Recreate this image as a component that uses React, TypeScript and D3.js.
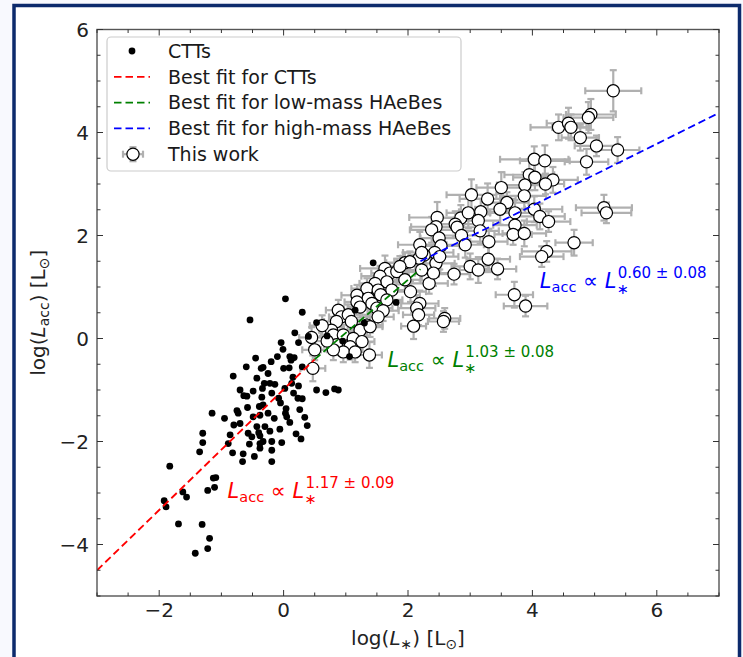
import React from 'react';
import * as d3 from 'd3';

// ---------- data ----------
const xDomain: [number, number] = [-3, 7];
const yDomain: [number, number] = [-5, 6];
const xMajorTicks = [-2, 0, 2, 4, 6];
const yMajorTicks = [-4, -2, 0, 2, 4, 6];
const tickLabel = (v: number) => (v < 0 ? '\u2212' + Math.abs(v) : String(v));

// CTTs: [log L*, log Lacc]
const cttPoints: [number, number][] = [
  [0.03, 0.77], [-0.54, 0.36], [0.53, 0.31], [0.18, 0.11], [0.40, 0.04], [-0.04, -0.08], [0.24, -0.08],
  [-0.01, -0.21], [-0.10, -0.35], [0.10, -0.35], [0.17, -0.37], [0.12, -0.42], [-0.33, -0.56], [-0.36, -0.58],
  [-0.81, -0.73], [-0.43, -0.77], [-0.25, -0.68], [0.00, -0.58], [0.09, -0.57], [-0.31, -0.87], [-0.22, -0.87],
  [-0.14, -0.89], [0.13, -0.87], [0.53, -1.00], [0.68, -1.05], [0.82, -0.98], [0.88, -1.00], [-0.49, -1.02],
  [-0.34, -0.97], [-0.19, -1.06], [0.02, -0.97], [0.24, -0.92], [-0.64, -1.11], [-0.59, -1.12], [-0.35, -1.14],
  [-0.08, -1.16], [0.16, -1.06], [0.23, -1.16], [0.30, -1.17], [-0.75, -1.40], [-0.73, -1.45], [-0.58, -1.34],
  [-0.39, -1.32], [-0.33, -1.29], [0.04, -1.36], [0.26, -1.38], [-1.15, -1.45], [-0.80, -1.68], [-0.49, -1.52],
  [-0.38, -1.49], [0.03, -1.45], [0.05, -1.52], [0.34, -1.53], [0.38, -1.69], [-0.43, -1.71], [-0.30, -1.71],
  [-0.22, -1.80], [-0.06, -1.76], [0.10, -1.63], [-0.57, -1.84], [-0.51, -1.91], [-0.38, -1.89], [-0.40, -1.83],
  [-1.30, -1.84], [-1.30, -2.02], [-0.86, -1.87], [-0.19, -2.00], [-0.03, -2.02], [-0.38, -2.04], [-0.33, -2.00],
  [-0.89, -2.04], [-0.82, -2.22], [-0.65, -2.24], [-0.38, -2.13], [-0.47, -2.29], [-0.19, -2.17], [-0.19, -2.39],
  [-0.66, -2.39], [-1.35, -2.20], [-1.83, -2.48], [-1.09, -2.70], [-1.13, -2.71], [-1.11, -2.89], [-1.22, -2.95],
  [-1.62, -2.98], [-1.56, -3.08], [-1.92, -3.15], [-1.89, -3.27], [-1.69, -3.60], [-1.31, -3.61], [-1.19, -3.88],
  [-1.22, -4.08], [-1.42, -4.17],
  [1.44, 1.47], [1.81, 0.70], [1.30, 0.30], [1.06, -0.35], [0.95, -0.05], [1.15, 0.55], [0.70, 0.05], [0.30, 0.51],
  [-0.70, -1.00], [-0.60, -0.55], [-0.20, -0.45], [0.30, -0.55], [-0.05, -1.25], [0.20, -1.85], [-0.70, -1.65],
  [-0.95, -1.55], [-0.25, -1.45], [0.15, -0.75], [-0.45, -0.38], [-0.15, -1.55], [0.28, -1.95], [-0.55, -2.05],
];

// This work (HAeBes): [log L*, log Lacc, xerr, yerr]
const haebePoints: [number, number, number, number][] = [
  [5.30, 4.81, 0.45, 0.40], [4.94, 4.35, 0.40, 0.30], [4.90, 4.29, 0.40, 0.30], [4.42, 4.10, 0.45, 0.25],
  [4.58, 4.18, 0.35, 0.30], [4.62, 4.10, 0.30, 0.25], [4.77, 3.90, 0.30, 0.25], [5.03, 3.74, 0.35, 0.20],
  [5.37, 3.66, 0.35, 0.25], [4.87, 3.43, 0.35, 0.25], [4.03, 3.48, 0.55, 0.25], [4.20, 3.45, 0.40, 0.30],
  [3.95, 3.18, 0.40, 0.30], [4.04, 3.13, 0.35, 0.25], [4.33, 3.08, 0.40, 0.25], [4.21, 3.00, 0.30, 0.20],
  [3.88, 2.98, 0.45, 0.25], [3.50, 2.93, 0.40, 0.30], [3.02, 2.79, 0.40, 0.30], [3.87, 2.77, 0.35, 0.25],
  [3.28, 2.71, 0.45, 0.30], [3.59, 2.64, 0.35, 0.20], [3.17, 2.46, 0.35, 0.25], [3.48, 2.51, 0.40, 0.30],
  [3.72, 2.44, 0.40, 0.25], [4.03, 2.51, 0.45, 0.25], [4.12, 2.37, 0.40, 0.25], [4.26, 2.27, 0.35, 0.20],
  [2.47, 2.35, 0.45, 0.30], [2.45, 2.17, 0.40, 0.25], [2.85, 2.34, 0.30, 0.25], [2.97, 2.44, 0.35, 0.30],
  [2.76, 2.22, 0.35, 0.25], [2.79, 2.16, 0.30, 0.20], [3.13, 2.29, 0.35, 0.25], [3.16, 2.09, 0.30, 0.25],
  [2.38, 2.11, 0.35, 0.25], [2.50, 1.95, 0.30, 0.25], [2.86, 2.00, 0.35, 0.20], [2.92, 1.82, 0.30, 0.25],
  [2.53, 1.80, 0.30, 0.20], [3.72, 2.20, 0.35, 0.25], [3.69, 2.02, 0.30, 0.20], [3.87, 2.04, 0.35, 0.25],
  [3.30, 1.88, 0.30, 0.25], [2.19, 1.82, 0.35, 0.25], [2.43, 1.67, 0.30, 0.25], [2.26, 1.62, 0.25, 0.20],
  [2.18, 1.56, 0.30, 0.20], [2.45, 1.46, 0.30, 0.25], [2.34, 1.07, 0.30, 0.20], [2.74, 1.25, 0.25, 0.20],
  [3.00, 1.40, 0.30, 0.25], [3.13, 1.33, 0.30, 0.25], [3.29, 1.54, 0.35, 0.25], [3.44, 1.35, 0.30, 0.20],
  [4.67, 1.86, 0.30, 0.25], [4.23, 1.69, 0.40, 0.20], [4.15, 1.59, 0.35, 0.20], [5.15, 2.54, 0.45, 0.25],
  [5.19, 2.44, 0.40, 0.20], [3.71, 0.85, 0.30, 0.25], [3.89, 0.63, 0.35, 0.20], [2.19, 0.68, 0.30, 0.25],
  [2.59, 0.39, 0.25, 0.20],
  [2.22, 1.67, 0.30, 0.20], [2.51, 1.59, 0.30, 0.25], [1.63, 1.36, 0.40, 0.25], [1.71, 1.27, 0.30, 0.20],
  [1.82, 1.30, 0.30, 0.25], [1.95, 1.47, 0.30, 0.20], [2.03, 1.49, 0.25, 0.20], [1.87, 1.40, 0.25, 0.20],
  [2.22, 1.33, 0.30, 0.20], [2.41, 1.27, 0.30, 0.25], [1.95, 1.14, 0.25, 0.20], [1.55, 1.21, 0.30, 0.20],
  [1.66, 1.10, 0.25, 0.20], [1.47, 1.07, 0.25, 0.20], [1.34, 0.97, 0.25, 0.20], [1.52, 0.94, 0.25, 0.20],
  [1.74, 0.94, 0.30, 0.20], [2.04, 0.91, 0.25, 0.20], [1.18, 0.84, 0.25, 0.20], [1.36, 0.78, 0.25, 0.20],
  [1.56, 0.85, 0.20, 0.20], [1.66, 0.75, 0.25, 0.20], [1.18, 0.71, 0.20, 0.20], [1.42, 0.68, 0.25, 0.20],
  [1.23, 0.61, 0.20, 0.20], [1.50, 0.59, 0.25, 0.20], [1.60, 0.54, 0.25, 0.20], [2.14, 0.59, 0.30, 0.25],
  [2.17, 0.46, 0.25, 0.20], [2.57, 0.33, 0.25, 0.20], [2.09, 0.24, 0.20, 0.25], [0.88, 0.55, 0.20, 0.20],
  [0.93, 0.42, 0.20, 0.20], [1.04, 0.46, 0.20, 0.20], [1.09, 0.33, 0.25, 0.20], [0.85, 0.33, 0.20, 0.20],
  [1.34, 0.26, 0.25, 0.20], [1.52, 0.42, 0.25, 0.20], [1.23, 0.16, 0.20, 0.20], [0.77, 0.16, 0.20, 0.20],
  [0.80, 0.07, 0.20, 0.20], [0.96, 0.07, 0.20, 0.20], [1.12, 0.00, 0.20, 0.20], [1.39, 0.23, 0.20, 0.20],
  [1.26, -0.06, 0.20, 0.20], [0.85, -0.12, 0.20, 0.20], [1.07, -0.16, 0.20, 0.25], [0.96, -0.26, 0.20, 0.20],
  [0.80, -0.22, 0.20, 0.20], [1.15, -0.26, 0.20, 0.20], [1.38, -0.32, 0.20, 0.25], [0.50, -0.22, 0.20, 0.20],
  [0.47, -0.58, 0.20, 0.25], [0.45, 0.02, 0.20, 0.20], [0.62, 0.25, 0.20, 0.20], [0.70, -0.05, 0.20, 0.20],
];

// Best-fit lines: [slope, intercept, xStart, xEnd]
const fitCTT: [number, number, number, number] = [1.17, -0.99, -3, 0.5];
const fitLowMass: [number, number, number, number] = [1.03, -0.92, 0.5, 2.2];
const fitHighMass: [number, number, number, number] = [0.60, 0.18, 2.2, 7];

const legendLabels = ['CTTs', 'Best fit for CTTs', 'Best fit for low-mass HAeBes', 'Best fit for high-mass HAeBes', 'This work'];

// annotations: [x, y, exponent text]
const annCTT: [number, number, string] = [-0.9, -3.1, '1.17 \u00b1 0.09'];
const annLow: [number, number, string] = [1.67, -0.56, '1.03 \u00b1 0.08'];
const annHigh: [number, number, string] = [4.12, 0.98, '0.60 \u00b1 0.08'];

// ---------- drawing ----------
const W = 743;
const H = 657;
const FONT = 'DejaVu Sans';

const x = d3.scaleLinear().domain(xDomain).range([97, 719]);
const y = d3.scaleLinear().domain(yDomain).range([596, 29.5]);

function fitPath(f: [number, number, number, number]) {
  const [m, b, x0, x1] = f;
  const line = d3.line<number>().x((v) => x(v)).y((v) => y(m * v + b));
  return line([x0, x1]) || '';
}

function PowerLaw({ a, color }: { a: [number, number, string]; color: string }) {
  return (
    <text x={x(a[0])} y={y(a[1])} fill={color} fontSize={21} fontFamily={FONT} style={{ whiteSpace: 'pre' }}>
      <tspan fontStyle="italic">L</tspan>
      <tspan fontSize={14.5} dy={4}>acc</tspan>
      <tspan dy={-4}>{' \u221d '}</tspan>
      <tspan fontStyle="italic">L</tspan>
      <tspan fontSize={14.5} dy={6}>{'\u2217'}</tspan>
      <tspan fontSize={15} dx={-11} dy={-16}>{a[2]}</tspan>
    </text>
  );
}

export default function App() {
  const minorX = d3.range(-3, 7.001, 0.5).filter((v) => !xMajorTicks.includes(v));
  const minorY = d3.range(-5, 6.001, 0.5).filter((v) => !yMajorTicks.includes(v));
  const L = x.range()[0], R = x.range()[1], T = y.range()[1], B = y.range()[0];
  const tickColor = '#333';
  const cap = 3.5;
  const ebColor = '#b0b0b0';

  return (
    <svg width={W} height={H} style={{ position: 'absolute', left: 0, top: 0, display: 'block' }}>
      <rect x={0} y={0} width={W} height={H} fill="#f8f9fe" />
      <rect x={14} y={5.5} width={725.5} height={700} fill="#ffffff" stroke="#0c2a6c" strokeWidth={3.5} />

      <defs>
        <clipPath id="plotclip">
          <rect x={L} y={T} width={R - L} height={B - T} />
        </clipPath>
      </defs>

      {/* HAeBe error bars */}
      <g stroke={ebColor} strokeWidth={2.2} fill="none">
        {haebePoints.map((p, i) => {
          const cx = x(p[0]), cy = y(p[1]);
          const xl = x(p[0] - p[2]), xr = x(p[0] + p[2]);
          const yt = y(p[1] + p[3]), yb = y(p[1] - p[3]);
          return (
            <g key={i}>
              <line x1={xl} x2={xr} y1={cy} y2={cy} />
              <line x1={cx} x2={cx} y1={yt} y2={yb} />
              <line x1={xl} x2={xl} y1={cy - cap} y2={cy + cap} />
              <line x1={xr} x2={xr} y1={cy - cap} y2={cy + cap} />
              <line x1={cx - cap} x2={cx + cap} y1={yt} y2={yt} />
              <line x1={cx - cap} x2={cx + cap} y1={yb} y2={yb} />
            </g>
          );
        })}
      </g>
      {/* HAeBe markers */}
      <g fill="#ffffff" stroke="#000" strokeWidth={1.2}>
        {haebePoints.map((p, i) => (
          <circle key={i} cx={x(p[0])} cy={y(p[1])} r={6.1} />
        ))}
      </g>

      {/* CTTs */}
      <g fill="#000">
        {cttPoints.map((p, i) => (
          <circle key={i} cx={x(p[0])} cy={y(p[1])} r={3.4} />
        ))}
      </g>

      {/* fits */}
      <g clipPath="url(#plotclip)" fill="none" strokeWidth={1.8} strokeDasharray="7.5,4">
        <path d={fitPath(fitCTT)} stroke="#ff0000" />
        <path d={fitPath(fitLowMass)} stroke="#008000" />
        <path d={fitPath(fitHighMass)} stroke="#0000ff" />
      </g>

      <PowerLaw a={annCTT} color="#ff0000" />
      <PowerLaw a={annLow} color="#008000" />
      <PowerLaw a={annHigh} color="#0000ff" />

      {/* legend */}
      <g>
        <rect x={107} y={37} width={354} height={134} rx={4} fill="#ffffff" fillOpacity={0.8} stroke="#cccccc" strokeWidth={1.2} />
        {legendLabels.map((lab, i) => {
          const ly = 51 + i * 25.8;
          let handle: React.ReactNode = null;
          if (i === 0) handle = <circle cx={132} cy={ly} r={3.4} fill="#000" />;
          else if (i < 4) {
            const c = ['#ff0000', '#008000', '#0000ff'][i - 1];
            handle = <line x1={114} x2={150} y1={ly} y2={ly} stroke={c} strokeWidth={1.8} strokeDasharray="7.5,4" />;
          } else {
            handle = (
              <g>
                <g stroke={ebColor} strokeWidth={2.2}>
                  <line x1={123} x2={143} y1={ly} y2={ly} />
                  <line x1={133} x2={133} y1={ly - 7} y2={ly + 7} />
                  <line x1={123} x2={123} y1={ly - cap} y2={ly + cap} />
                  <line x1={143} x2={143} y1={ly - cap} y2={ly + cap} />
                  <line x1={133 - cap} x2={133 + cap} y1={ly - 7} y2={ly - 7} />
                  <line x1={133 - cap} x2={133 + cap} y1={ly + 7} y2={ly + 7} />
                </g>
                <circle cx={133} cy={ly} r={6.1} fill="#fff" stroke="#000" strokeWidth={1.2} />
              </g>
            );
          }
          return (
            <g key={lab}>
              {handle}
              <text x={168} y={ly} dy="0.36em" fontSize={19} fontFamily={FONT} fill="#1a1a1a">{lab}</text>
            </g>
          );
        })}
      </g>

      {/* axes frame */}
      <rect x={L} y={T} width={R - L} height={B - T} fill="none" stroke="#555" strokeWidth={1.4} />
      <g stroke={tickColor} strokeWidth={1}>
        {xMajorTicks.map((v) => (
          <g key={'xM' + v}>
            <line x1={x(v)} x2={x(v)} y1={B} y2={B - 6} />
            <line x1={x(v)} x2={x(v)} y1={T} y2={T + 6} />
          </g>
        ))}
        {minorX.map((v) => (
          <g key={'xm' + v}>
            <line x1={x(v)} x2={x(v)} y1={B} y2={B - 3.5} />
            <line x1={x(v)} x2={x(v)} y1={T} y2={T + 3.5} />
          </g>
        ))}
        {yMajorTicks.map((v) => (
          <g key={'yM' + v}>
            <line x1={L} x2={L + 6} y1={y(v)} y2={y(v)} />
            <line x1={R} x2={R - 6} y1={y(v)} y2={y(v)} />
          </g>
        ))}
        {minorY.map((v) => (
          <g key={'ym' + v}>
            <line x1={L} x2={L + 3.5} y1={y(v)} y2={y(v)} />
            <line x1={R} x2={R - 3.5} y1={y(v)} y2={y(v)} />
          </g>
        ))}
      </g>
      <g fontFamily={FONT} fontSize={20} fill="#222">
        {xMajorTicks.map((v) => (
          <text key={'xl' + v} x={x(v)} y={B + 21} textAnchor="middle">{tickLabel(v)}</text>
        ))}
        {yMajorTicks.map((v) => (
          <text key={'yl' + v} x={L - 8} y={y(v)} dy="0.36em" textAnchor="end">{tickLabel(v)}</text>
        ))}
      </g>

      {/* axis titles */}
      <text x={(L + R) / 2} y={645} textAnchor="middle" fontFamily={FONT} fontSize={20} fill="#222" style={{ whiteSpace: 'pre' }}>
        <tspan>log(</tspan>
        <tspan fontStyle="italic">L</tspan>
        <tspan fontSize={14} dy={4}>{'\u2217'}</tspan>
        <tspan dy={-4}>{') [L'}</tspan>
        <tspan fontSize={14} dy={4}>{'\u2299'}</tspan>
        <tspan dy={-4}>]</tspan>
      </text>
      <text transform={`translate(45, ${(T + B) / 2}) rotate(-90)`} textAnchor="middle" fontFamily={FONT} fontSize={20} fill="#222" style={{ whiteSpace: 'pre' }}>
        <tspan>log(</tspan>
        <tspan fontStyle="italic">L</tspan>
        <tspan fontSize={14} dy={4}>acc</tspan>
        <tspan dy={-4}>{') [L'}</tspan>
        <tspan fontSize={14} dy={4}>{'\u2299'}</tspan>
        <tspan dy={-4}>]</tspan>
      </text>
    </svg>
  );
}
